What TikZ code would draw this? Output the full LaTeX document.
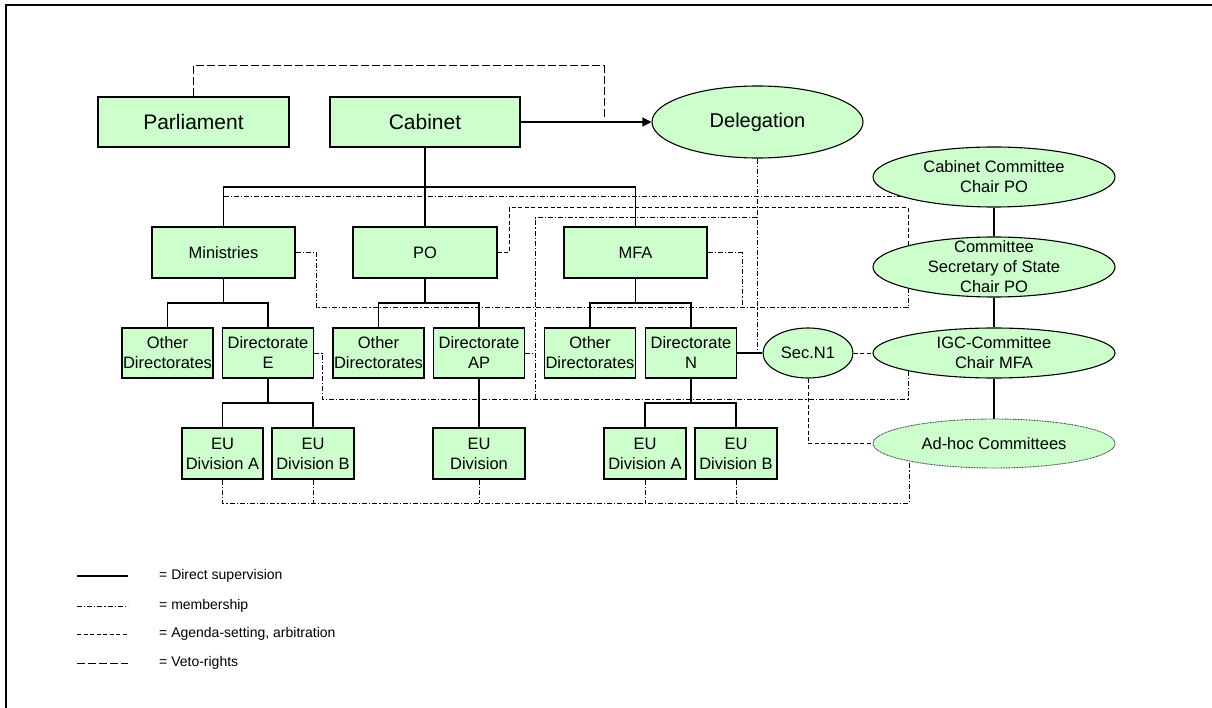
\documentclass[tikz,border=0pt]{standalone}
\usepackage{fontspec}
\setmainfont{Liberation Sans}
\usetikzlibrary{arrows.meta,backgrounds,shapes.geometric}
\definecolor{leaf}{HTML}{CCFFCC}
\begin{document}
\begin{tikzpicture}[x=1pt,y=-1pt,
  every node/.style={font=\fontsize{16.5}{20}\selectfont, text=black},
  unit/.style={draw=black, fill=leaf, line width=1.1pt, inner sep=0pt, align=center, minimum height=50pt},
  topunit/.style={unit, font=\fontsize{21}{25}\selectfont},
  oval/.style={ellipse, draw=black, fill=leaf, line width=1.1pt, inner sep=0pt, align=center},
  adhocoval/.style={oval, draw=black!75, line width=0.9pt, dash pattern=on 0.9pt off 0.7pt},
  ovaltext/.style={align=center, inner sep=0pt},
  sup/.style={line width=1.1pt},
  member/.style={line width=1pt, dash pattern=on 5pt off 2pt on 1.2pt off 2pt},
  agenda/.style={line width=1pt, dash pattern=on 4pt off 2.5pt},
  veto/.style={line width=1pt, dash pattern=on 8pt off 3pt},
  keytext/.style={anchor=west, inner sep=0pt, font=\fontsize{14}{16}\selectfont}
]
\useasboundingbox (0,0) rectangle (1212,708);

% frame
\draw[line width=2pt] (6,708) -- (6,5) -- (1212,5);

% top level
\node[topunit, minimum width=191pt] (parl) at (193.5,122) {Parliament};
\node[topunit, minimum width=190pt] (cab) at (425,122) {Cabinet};
\node[oval, minimum width=211pt, minimum height=72pt, font=\fontsize{20}{24}\selectfont] (del) at (757.5,122) {Delegation};

% ministries level
\node[unit, minimum width=143pt, minimum height=51pt] (min) at (223.5,252.5) {Ministries};
\node[unit, minimum width=144pt, minimum height=51pt] (po) at (425,252.5) {PO};
\node[unit, minimum width=143pt, minimum height=51pt] (mfa) at (635.5,252.5) {MFA};

% directorates
\node[unit, minimum width=91pt] (od1) at (167.5,353) {Other\\Directorates};
\node[unit, minimum width=91pt] (dirE) at (268,353) {Directorate\\E};
\node[unit, minimum width=91pt] (od2) at (378.5,353) {Other\\Directorates};
\node[unit, minimum width=91pt] (dirAP) at (479,353) {Directorate\\AP};
\node[unit, minimum width=91pt] (od3) at (590,353) {Other\\Directorates};
\node[unit, minimum width=91pt] (dirN) at (691,353) {Directorate\\N};

% EU divisions
\node[unit, minimum width=81pt, minimum height=51pt] (euA1) at (222.5,453.5) {EU\\Division A};
\node[unit, minimum width=82pt, minimum height=51pt] (euB1) at (313,453.5) {EU\\Division B};
\node[unit, minimum width=92pt, minimum height=51pt] (eu) at (479,453.5) {EU\\Division};
\node[unit, minimum width=82pt, minimum height=51pt] (euA2) at (645,453.5) {EU\\Division A};
\node[unit, minimum width=82pt, minimum height=51pt] (euB2) at (736,453.5) {EU\\Division B};

% committees
\node[oval, minimum width=242pt, minimum height=60pt] (cc) at (994,177) {};
\node[ovaltext] (cct) at (cc) {Cabinet Committee\\Chair PO};
\node[oval, minimum width=242pt, minimum height=60pt] (css) at (994,267) {};
\node[ovaltext] (csst) at (css) {Committee\\Secretary of State\\Chair PO};
\node[oval, minimum width=242pt, minimum height=50pt] (igc) at (994,353) {};
\node[ovaltext] (igct) at (igc) {IGC-Committee\\Chair MFA};
\node[adhocoval, minimum width=242pt, minimum height=49pt] (adhoc) at (994,443.5) {Ad-hoc Committees};
\node[oval, minimum width=90pt, minimum height=50pt] (secn) at (808,353) {Sec.N1};

\coordinate (vetoend) at (604,117);

\begin{scope}[on background layer]
  % direct supervision
  \draw[sup, -{Triangle[length=9pt,width=9pt]}] (cab.east) -- (del.west);
  \draw[sup] (cab.south) -- (po.north);
  \draw[sup] (min.north) |- (cab.south |- 0,187) -| (mfa.north);
  \draw[sup] (min.south) -- (min.south |- 0,303);
  \draw[sup] (od1.north) |- (min.south |- 0,303) -| (dirE.north);
  \draw[sup] (po.south) -- (po.south |- 0,303);
  \draw[sup] (od2.north) |- (po.south |- 0,303) -| (dirAP.north);
  \draw[sup] (mfa.south) -- (mfa.south |- 0,303);
  \draw[sup] (od3.north) |- (mfa.south |- 0,303) -| (dirN.north);
  \draw[sup] (dirE.south) -- (dirE.south |- 0,403);
  \draw[sup] (euA1.north) |- (dirE.south |- 0,403) -| (euB1.north);
  \draw[sup] (dirAP.south) -- (eu.north);
  \draw[sup] (dirN.south) -- (dirN.south |- 0,403);
  \draw[sup] (euA2.north) |- (dirN.south |- 0,403) -| (euB2.north);
  \draw[sup] (dirN.east) -- (secn.west);
  \draw[sup] (cc.south) -- (css.north);
  \draw[sup] (css.south) -- (igc.north);
  \draw[sup] (igc.south) -- (adhoc.north);

  % membership
  \draw[member] (min.north |- 0,197) -- (cc.center |- 0,197);
  \draw[member] (min.east) -- (316,252.5) -- (316,308) -- (908,308) -- (908,280);
  \draw[member] (mfa.east) -- (742,252.5) -- (742,308);
  \draw[member] (dirE.east) -- (322,353) -- (322,399) -- (908,399) -- (908,365);
  \draw[member] (dirAP.east) -- (535,353);
  \draw[member] (757,218) -- (535,218) -- (535,399);
  \draw[member] (del.south) -- (del.south |- secn.west);
  \draw[member] (euA1.south) -- (euA1.south |- 0,503) -- (909,503) -- (909,455);
  \draw[member] (euB1.south) -- (euB1.south |- 0,503);
  \draw[member] (eu.south) -- (eu.south |- 0,503);
  \draw[member] (euA2.south) -- (euA2.south |- 0,503);
  \draw[member] (euB2.south) -- (euB2.south |- 0,503);

  % agenda-setting
  \draw[agenda] (po.east) -- (509,252.5) -- (509,208) -- (908,208) -- (908,255);
  \draw[agenda] (secn.east) -- (igc.west);
  \draw[agenda] (secn.south) |- (adhoc.west);

  % veto
  \draw[veto] (parl.north) -- (parl.north |- 0,66) -| (vetoend);
\end{scope}

% key
\draw[sup] (77,576) -- (128,576);
\node[keytext] (k1) at (159,576) {= Direct supervision};
\draw[member] (77,606) -- (128,606);
\node[keytext] (k2) at (159,606) {= membership};
\draw[agenda] (77,634) -- (128,634);
\node[keytext] (k3) at (159,634) {= Agenda-setting, arbitration};
\draw[veto] (77,663) -- (128,663);
\node[keytext] (k4) at (159,663) {= Veto-rights};
\end{tikzpicture}
\end{document}
